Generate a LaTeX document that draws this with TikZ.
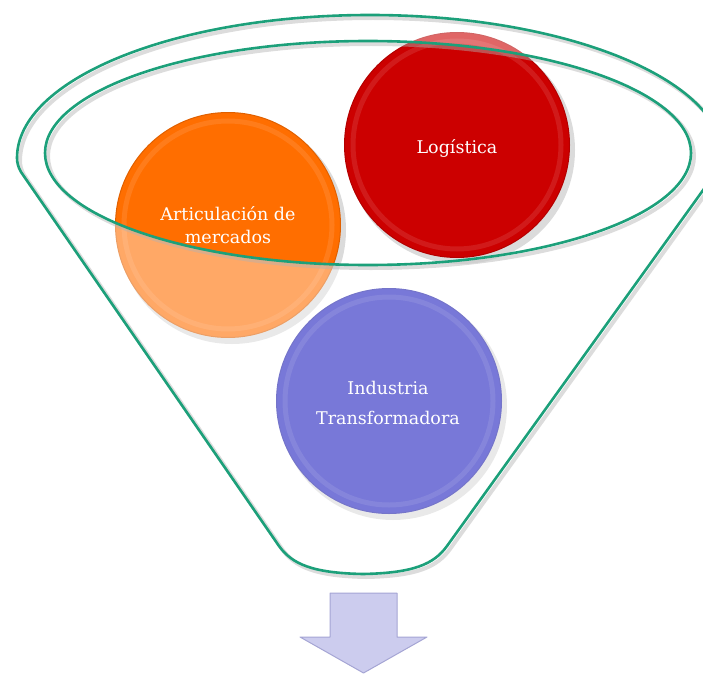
\documentclass[tikz,border=0pt]{standalone}
\usepackage{fontspec}
\setmainfont{DejaVu Serif}
\definecolor{funnelgreen}{RGB}{28,160,122}
\definecolor{orangeball}{RGB}{255,110,0}
\definecolor{redball}{RGB}{204,0,0}
\definecolor{purpleball}{RGB}{30,30,190}
\definecolor{arrowfill}{RGB}{204,204,238}
\definecolor{arrowedge}{RGB}{165,165,212}
\begin{document}
\begin{tikzpicture}[x=1pt,y=-1pt]
\useasboundingbox (0,0) rectangle (703,674);
\tikzset{
  ball/.style={circle, minimum size=226pt, inner sep=0pt, text=white, align=center},
  ballshadow/.style={fill=black, opacity=0.14},
  rim/.style={draw=white, line width=5pt, opacity=0.10},
  balledge/.style={draw=black, line width=1pt, opacity=0.12},
  funnelshape/.style={insert path={(21,172) -- (279,546) .. controls (292,564) and (312,573) .. (363,574) .. controls (414,573) and (434,564) .. (447,546) -- (719,168) .. controls (722,164) and (723,161) .. (723,158) arc[start angle=0, end angle=180, x radius=353pt, y radius=143pt] .. controls (17,162) and (18,167) .. (21,172) -- cycle}},
  openingshape/.style={insert path={(368,153) ellipse [x radius=323pt, y radius=112pt]}},
  funnelline/.style={draw=funnelgreen, line width=2.6pt},
  funnelshadow/.style={draw=black!30, line width=4pt, opacity=0.45},
  arrowstyle/.style={fill=arrowfill, draw=arrowedge, line width=1pt, line join=round},
  labelfont/.style={font=\fontsize{17.5}{23}\selectfont},
}
% shadows of balls
\fill[ballshadow] (232,230) circle (114pt);
\fill[ballshadow] (461,150) circle (114pt);
\fill[ballshadow] (393,406) circle (114pt);
% balls
\node[ball, fill=orangeball] (art) at (228,225) {};
\node[ball, fill=redball] (log) at (457,145) {};
\node[ball, fill=purpleball] (ind) at (389,401) {};
\draw[rim] (art.center) circle (104pt);
\draw[rim] (log.center) circle (104pt);
\draw[rim] (ind.center) circle (104pt);
\draw[balledge] (art.center) circle (112.5pt);
\draw[balledge] (log.center) circle (112.5pt);
\draw[balledge] (ind.center) circle (112.5pt);
% translucent funnel body (opening left clear)
\fill[white, opacity=0.4, even odd rule, funnelshape, openingshape];
% funnel shadows
\begin{scope}[xshift=3pt, yshift=-3pt]
  \draw[funnelshadow, funnelshape];
  \draw[funnelshadow, openingshape];
\end{scope}
% funnel lines
\draw[funnelline, funnelshape];
\draw[funnelline, openingshape];
% labels
\node[labelfont, text=white, align=center] (artlabel) at (228,225) {Articulación de\\mercados};
\node[labelfont, text=white, align=center] (loglabel) at (457,148) {Logística};
\node[font=\fontsize{17.5}{30}\selectfont, text=white, align=center] (indlabel) at (388,403) {Industria\\Transformadora};
% arrow
\draw[arrowstyle] (330,593) -- (397,593) -- (397,637) -- (427,637) -- (363.5,673) -- (300,637) -- (330,637) -- cycle;
\end{tikzpicture}
\end{document}
